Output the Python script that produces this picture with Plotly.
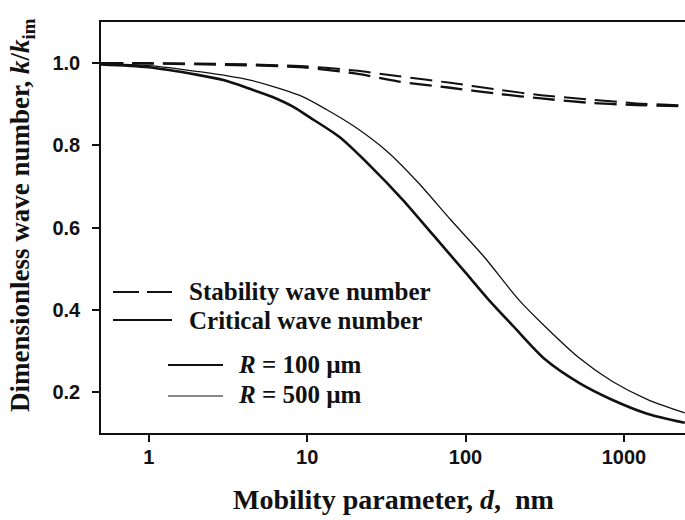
import plotly.graph_objects as go

# ---- data: dimensionless wave number k/k_im versus mobility parameter d (nm) ----
d_crit_100 = [0.5, 1, 2, 3, 4.3, 6, 8.5, 10, 16, 25, 40, 63, 100, 140, 200, 320, 520, 840, 1400, 2420]
k_crit_100 = [0.997, 0.99, 0.972, 0.958, 0.938, 0.918, 0.89, 0.872, 0.82, 0.75, 0.668, 0.58, 0.49,
              0.424, 0.36, 0.278, 0.222, 0.181, 0.147, 0.125]

d_crit_500 = [0.5, 1, 2, 4.3, 8.9, 13.4, 20, 32, 50, 80, 130, 217, 320, 520, 840, 1400, 2420]
k_crit_500 = [0.998, 0.994, 0.98, 0.959, 0.922, 0.886, 0.845, 0.785, 0.71, 0.62, 0.53, 0.424,
              0.358, 0.283, 0.226, 0.182, 0.149]

d_stab = [0.5, 1, 3, 9, 20, 38, 80, 163, 300, 628, 1200, 2420]
k_stab_100 = [1.0, 0.999, 0.996, 0.99, 0.975, 0.955, 0.94, 0.925, 0.914, 0.903, 0.898, 0.895]
k_stab_500 = [1.0, 1.0, 0.998, 0.993, 0.982, 0.968, 0.952, 0.935, 0.922, 0.911, 0.902, 0.897]

x_tick_vals = [1, 10, 100, 1000]
x_tick_text = ["1", "10", "100", "1000"]
y_tick_vals = [0.2, 0.4, 0.6, 0.8, 1.0]
y_tick_text = ["0.2", "0.4", "0.6", "0.8", "1.0"]

legend_rows = ["Stability wave number", "Critical wave number"]
radius_rows = ["<i>R</i> = 100 \u00b5m", "<i>R</i> = 500 \u00b5m"]

# ---- figure geometry (pixels) ----
W, H = 685, 520
ML, MR, MT, MB = 101, 0, 22, 87
PW, PH = W - ML - MR, H - MT - MB


def px(x):
    return (x - ML) / PW


def py(y):
    return (H - MB - y) / PH


SERIF = "Liberation Serif"
SANS = "Liberation Sans"
INK = "#111111"
DASH = "22px,9px"

fig = go.Figure()

fig.add_trace(go.Scatter(x=d_stab, y=k_stab_500, mode="lines",
                         line=dict(color=INK, width=2.0, dash=DASH, shape="spline", smoothing=0.8)))
fig.add_trace(go.Scatter(x=d_stab, y=k_stab_100, mode="lines",
                         line=dict(color=INK, width=2.3, dash=DASH, shape="spline", smoothing=0.8)))
fig.add_trace(go.Scatter(x=d_crit_500, y=k_crit_500, mode="lines",
                         line=dict(color=INK, width=1.3, shape="spline", smoothing=0.8)))
fig.add_trace(go.Scatter(x=d_crit_100, y=k_crit_100, mode="lines",
                         line=dict(color=INK, width=2.6, shape="spline", smoothing=0.8)))

shapes = []
# legend line samples
shapes.append(dict(type="line", xref="paper", yref="paper", x0=px(113), x1=px(139), y0=py(292), y1=py(292),
                   line=dict(color=INK, width=2)))
shapes.append(dict(type="line", xref="paper", yref="paper", x0=px(147), x1=px(172), y0=py(292), y1=py(292),
                   line=dict(color=INK, width=2)))
shapes.append(dict(type="line", xref="paper", yref="paper", x0=px(113), x1=px(172), y0=py(320), y1=py(320),
                   line=dict(color=INK, width=2)))
shapes.append(dict(type="line", xref="paper", yref="paper", x0=px(168), x1=px(223), y0=py(365), y1=py(365),
                   line=dict(color=INK, width=2)))
shapes.append(dict(type="line", xref="paper", yref="paper", x0=px(168), x1=px(223), y0=py(396), y1=py(396),
                   line=dict(color=INK, width=1)))

annotations = []
for txt, yy in zip(legend_rows, [291, 320]):
    annotations.append(dict(text=txt, xref="paper", yref="paper", x=px(187), y=py(yy),
                            xanchor="left", yanchor="middle", showarrow=False,
                            font=dict(family=SERIF, size=25, color=INK, weight="bold")))
for txt, yy in zip(radius_rows, [364, 394]):
    annotations.append(dict(text=txt, xref="paper", yref="paper", x=px(236), y=py(yy),
                            xanchor="left", yanchor="middle", showarrow=False,
                            font=dict(family=SERIF, size=25, color=INK, weight="bold")))

# axis titles
annotations.append(dict(text="Mobility parameter, <i>d</i>,\u00a0\u00a0nm", xref="paper", yref="paper",
                        x=px(393), y=py(500), xanchor="center", yanchor="middle", showarrow=False,
                        font=dict(family=SERIF, size=28, color=INK, weight="bold")))
annotations.append(dict(text="Dimensionless wave number, <i>k</i>/<i>k</i><sub>im</sub>", xref="paper",
                        yref="paper", x=px(22), y=py(215), xanchor="center", yanchor="middle",
                        textangle=-90, showarrow=False,
                        font=dict(family=SERIF, size=27, color=INK, weight="bold")))

fig.update_layout(
    width=W, height=H,
    margin=dict(l=ML, r=MR, t=MT, b=MB, pad=0),
    paper_bgcolor="white", plot_bgcolor="white",
    showlegend=False,
    shapes=shapes,
    annotations=annotations,
    xaxis=dict(type="log", range=[-0.301, 3.385], tickvals=x_tick_vals, ticktext=x_tick_text,
               showgrid=False, zeroline=False, showline=True, linecolor=INK, linewidth=1.5,
               mirror=True, ticks="outside", ticklen=7, tickwidth=1.5, tickcolor=INK,
               ticklabelstandoff=-2,
               tickfont=dict(family=SANS, size=20, color=INK, weight="bold")),
    yaxis=dict(range=[0.1, 1.1], tickvals=y_tick_vals, ticktext=y_tick_text,
               showgrid=False, zeroline=False, showline=True, linecolor=INK, linewidth=1.5,
               mirror=False, ticks="outside", ticklen=7, tickwidth=1.5, tickcolor=INK,
               ticklabelstandoff=8,
               tickfont=dict(family=SANS, size=20, color=INK, weight="bold")),
)

fig.write_html("out.html")
